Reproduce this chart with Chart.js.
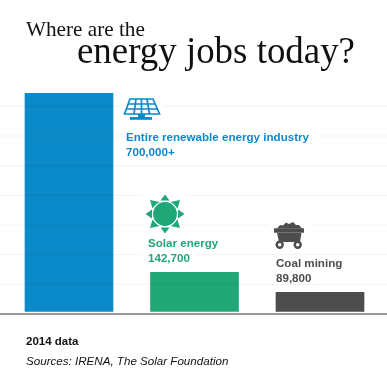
<!DOCTYPE html>
<html>
<head>
<meta charset="utf-8">
<script src="https://cdn.jsdelivr.net/npm/chart.js@4"></script>
<style>
html, body { margin: 0; padding: 0; background: #fff; }
#wrap { position: relative; width: 387px; height: 387px; overflow: hidden; font-family: "Liberation Sans", Arial, sans-serif; }
canvas { position: absolute; left: 0; top: 0; }
.t { position: absolute; white-space: nowrap; }
.serif { font-family: "Liberation Serif", serif; color: #111; }
.lab { font-weight: bold; font-size: 11.6px; line-height: 15.3px; }
.lab span { background: #fff; padding: 0 6px; }
svg { position: absolute; overflow: visible; }
</style>
</head>
<body>
<div id="wrap">
  <canvas id="jobsChart" width="387" height="387"></canvas>

  <div class="t serif" style="left:26px;top:17px;font-size:21.2px;">Where are the</div>
  <div class="t serif" style="left:77px;top:29px;font-size:36.9px;">energy jobs today?</div>

  <svg style="left:120px;top:96px" width="44" height="30" viewBox="0 0 44 30">
    <rect x="0" y="0" width="44" height="30" fill="#fff"/>
    <g fill="none" stroke="#0a8ac9" stroke-width="1.7">
      <path d="M10 3H33L39.5 18H4.5Z"/>
      <path d="M8.2 8H34.8M6.2 13H37.2M16 3L14 18M21.5 3V18M27 3L29.5 18"/>
    </g>
    <rect x="18" y="18" width="7" height="3" fill="#0a8ac9"/>
    <rect x="10" y="21" width="22" height="2.8" fill="#0a8ac9"/>
  </svg>
  <div class="t lab" style="left:120px;top:128.5px;color:#0a8ac9"><span>Entire renewable energy industry</span><br><span>700,000+</span></div>

  <svg style="left:142px;top:194px" width="44" height="41" viewBox="0 0 44 41">
    <rect x="0" y="0" width="44" height="41" fill="#fff"/>
    <g fill="#20a777">
      <path d="M23 0.5L27.5 6.5H18.5Z"/><path d="M23 39.5L27.5 33.5H18.5Z"/>
      <path d="M3.5 20L10 15.5V24.5Z"/><path d="M42.5 20L36 15.5V24.5Z"/>
      <path d="M8 6L17.5 8L10.5 14.5Z"/><path d="M38 6L28.5 8L35.5 14.5Z"/>
      <path d="M8 34L17.5 32L10.5 25.5Z"/><path d="M38 34L28.5 32L35.5 25.5Z"/>
    </g>
    <circle cx="23" cy="20" r="12.5" fill="#20a777" stroke="#fff" stroke-width="1.2"/>
  </svg>
  <div class="t lab" style="left:142px;top:234.5px;color:#20a777"><span>Solar energy</span><br><span>142,700</span></div>

  <svg style="left:268px;top:220px" width="42" height="32" viewBox="0 0 42 32">
    <rect x="0" y="0" width="42" height="32" fill="#fff"/>
    <path d="M9 8.5L12 5L15 5.5L18 2.5L21 4L25 2L28 5L31 5L34 8.5Z" fill="#4d4d4d"/>
    <rect x="6" y="8.3" width="30" height="4.4" fill="#4d4d4d"/>
    <path d="M9 12.7H33.5L32 22H11Z" fill="#4d4d4d"/>
    <circle cx="11.7" cy="24.7" r="3" fill="#fff" stroke="#4d4d4d" stroke-width="2.4"/>
    <circle cx="29.7" cy="24.7" r="3" fill="#fff" stroke="#4d4d4d" stroke-width="2.4"/>
  </svg>
  <div class="t lab" style="left:270px;top:255px;color:#4d4d4d"><span>Coal mining</span><br><span>89,800</span></div>

  <div class="t" style="left:26px;top:335px;font-size:11.5px;font-weight:bold;color:#111">2014 data</div>
  <div class="t" style="left:26px;top:353.5px;font-size:11.6px;font-style:italic;color:#111">Sources: IRENA, The Solar Foundation</div>
</div>

<script>
// categories and bar heights
const categories = ['Entire renewable energy industry', 'Solar energy', 'Coal mining'];
const barValues = [745000, 140500, 73000];
const barColors = ['#0a8ac9', '#20a777', '#4d4d4d'];
const gridValues = [100000, 200000, 300000, 400000, 500000, 600000, 700000];

// horizontal rules run the full width of the canvas, over the bars
const fullWidthGrid = {
    id: 'fullWidthGrid',
    afterDatasetsDraw(chart) {
        const { ctx, scales: { y } } = chart;
        ctx.save();
        ctx.lineWidth = 1.2;
        ctx.strokeStyle = 'rgba(0,0,0,0.045)';
        gridValues.forEach(v => {
            const py = y.getPixelForValue(v);
            ctx.beginPath();
            ctx.moveTo(0, py);
            ctx.lineTo(chart.width, py);
            ctx.stroke();
        });
        const py0 = y.getPixelForValue(0);
        ctx.lineWidth = 1.5;
        ctx.strokeStyle = '#777';
        ctx.beginPath();
        ctx.moveTo(0, py0);
        ctx.lineTo(chart.width, py0);
        ctx.stroke();
        ctx.restore();
    }
};

new Chart(document.getElementById('jobsChart').getContext('2d'), {
    type: 'bar',
    data: {
        labels: categories,
        datasets: [{
            data: barValues,
            backgroundColor: barColors,
            barThickness: 88,
            base: 8500
        }]
    },
    options: {
        responsive: false,
        animation: false,
        layout: { padding: { left: 6.25, right: 4.25, top: 93, bottom: 73 } },
        plugins: { legend: { display: false }, tooltip: { enabled: false } },
        scales: {
            x: { display: false },
            y: { display: false, min: 0, max: 745000 }
        }
    },
    plugins: [fullWidthGrid]
});
</script>
</body>
</html>
